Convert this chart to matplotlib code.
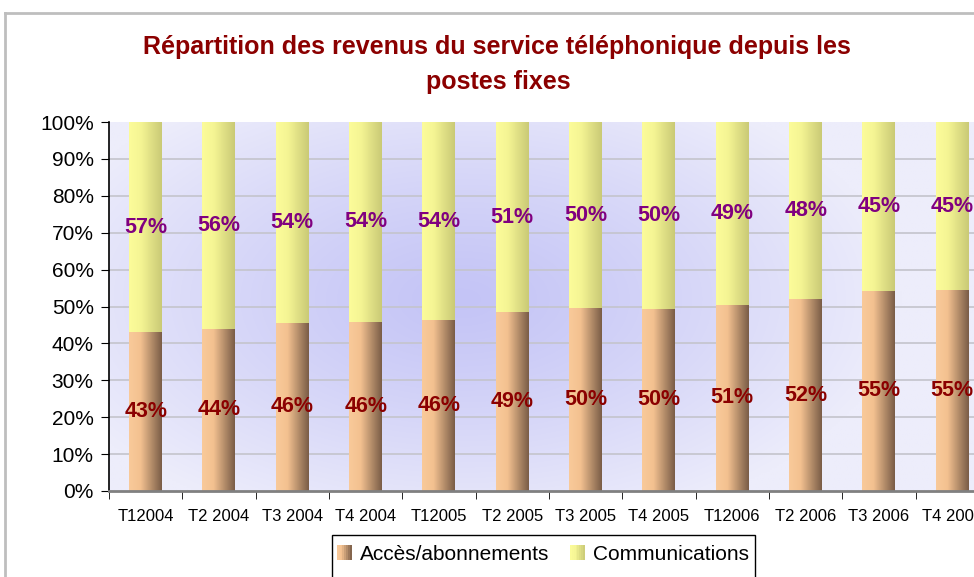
import numpy as np
import matplotlib
matplotlib.use("Agg")
import matplotlib.pyplot as plt
from matplotlib.colors import LinearSegmentedColormap, to_rgb
from matplotlib.patches import Rectangle, Patch
from matplotlib.lines import Line2D
from matplotlib.legend_handler import HandlerBase

plt.rcParams['font.family'] = ['Liberation Sans', 'DejaVu Sans']

categories = ["T12004", "T2 2004", "T3 2004", "T4 2004", "T12005", "T2 2005",
              "T3 2005", "T4 2005", "T12006", "T2 2006", "T3 2006", "T4 2006"]
acces = [43.0, 44.0, 45.6, 45.8, 46.3, 48.5, 49.5, 49.4, 50.5, 52.0, 54.3, 54.4]
communications = [100 - a for a in acces]
acces_labels = ["43%", "44%", "46%", "46%", "46%", "49%", "50%", "50%", "51%", "52%", "55%", "55%"]
comm_labels = ["57%", "56%", "54%", "54%", "54%", "51%", "50%", "50%", "49%", "48%", "45%", "45%"]
yticks = [0, 10, 20, 30, 40, 50, 60, 70, 80, 90, 100]

W, H = 974, 577
fig = plt.figure(figsize=(W / 100, H / 100), dpi=100)
fig.patch.set_facecolor('white')

# outer frame lines
fig.add_artist(Line2D([5 / W, 5 / W], [0, 1 - 13 / H], transform=fig.transFigure, color='#BEBEBE', lw=2))
fig.add_artist(Line2D([5 / W, 1.0], [1 - 13 / H, 1 - 13 / H], transform=fig.transFigure, color='#BEBEBE', lw=2))

left_px, right_px, top_px, bot_px = 109, 989, 122, 491
ax = fig.add_axes([left_px / W, 1 - bot_px / H, (right_px - left_px) / W, (bot_px - top_px) / H])

# background radial gradient
nx, ny = 400, 200
xs = np.linspace(-0.5, 11.5, nx)
ys = np.linspace(0, 100, ny)
X, Y = np.meshgrid(xs, ys)
cx, cy = 4.3, 52
d = np.sqrt(((X - cx) / 6.0) ** 2 + ((Y - cy) / 65.0) ** 2)
d = np.clip(d, 0, 1)
c_center = np.array(to_rgb('#C4C4F6'))
c_edge = np.array(to_rgb('#EDEDFB'))
img = c_center[None, None, :] + (c_edge - c_center)[None, None, :] * d[:, :, None] ** 1.2
ax.imshow(img, extent=(-0.5, 11.5, 0, 100), origin='lower', aspect='auto', zorder=0,
          interpolation='bilinear')

# gridlines
for yv in yticks[1:-1]:
    ax.axhline(yv, color='#C4C4CC', lw=1.2, zorder=1)

cmap_a = LinearSegmentedColormap.from_list('a', [(0, '#F9CA9A'), (0.35, '#F3C190'), (1, '#7A5D47')])
cmap_c = LinearSegmentedColormap.from_list('c', [(0, '#FCFC9A'), (0.35, '#F5F594'), (1, '#CACA76')])
grad = np.linspace(0, 1, 100)[None, :]

bw = 0.45
for i, (a, c) in enumerate(zip(acces, communications)):
    ax.imshow(grad, cmap=cmap_a, extent=(i - bw / 2, i + bw / 2, 0, a), aspect='auto',
              origin='lower', zorder=2, interpolation='bilinear')
    ax.imshow(grad, cmap=cmap_c, extent=(i - bw / 2, i + bw / 2, a, a + c), aspect='auto',
              origin='lower', zorder=2, interpolation='bilinear')
    ax.text(i, a / 2, acces_labels[i], ha='center', va='center', fontsize=15.5,
            fontweight='bold', color='#8B0000', zorder=4)
    ax.text(i, a + c / 2, comm_labels[i], ha='center', va='center', fontsize=15.5,
            fontweight='bold', color='#800080', zorder=4)

ax.set_xlim(-0.5, 11.5)
ax.set_ylim(0, 100)
ax.set_yticks(yticks)
ax.set_yticklabels([f"{v}%" for v in yticks], fontsize=15)
ax.set_xticks(range(len(categories)))
ax.set_xticklabels(categories, fontsize=12)
ax.set_xticks(np.arange(-0.5, 12, 1), minor=True)
ax.tick_params(axis='x', which='major', length=0, pad=13)
ax.tick_params(axis='x', which='minor', length=6, direction='out', color='black')
ax.tick_params(axis='y', length=6, direction='out', color='black', pad=5)
for s in ['top', 'right']:
    ax.spines[s].set_visible(False)
ax.spines['left'].set_color('black')
ax.spines['left'].set_linewidth(1.2)
ax.spines['bottom'].set_color('#808080')
ax.spines['bottom'].set_linewidth(2)
ax.spines['left'].set_zorder(5)
ax.spines['bottom'].set_zorder(5)

# title
fig.text(497 / W, 1 - 47 / H, "Répartition des revenus du service téléphonique depuis les",
         ha='center', va='center', fontsize=18, fontweight='bold', color='#8B0000')
fig.text(498 / W, 1 - 82 / H, "postes fixes", ha='center', va='center', fontsize=18,
         fontweight='bold', color='#8B0000')


class GradHandler(HandlerBase):
    def __init__(self, cmap):
        super().__init__()
        self.cmap = cmap

    def create_artists(self, legend, orig_handle, xdescent, ydescent, width, height, fontsize, trans):
        n = 8
        arts = []
        for k in range(n):
            r = Rectangle((-xdescent + width * k / n, -ydescent), width / n + 0.3, height,
                          facecolor=self.cmap((k + 0.5) / n), edgecolor='none', transform=trans)
            arts.append(r)
        return arts


# legend
fig.add_artist(Rectangle((332 / W, -0.05), (755 - 332) / W, 0.05 + 1 - 535 / H,
                         transform=fig.transFigure, facecolor='white', edgecolor='black', lw=1))
h_a = Patch(facecolor='#D2A67C', edgecolor='none', label='Accès/abonnements')
h_c = Patch(facecolor='#ECEC8C', edgecolor='none', label='Communications')
fig.legend(handles=[h_a, h_c], loc='center', bbox_to_anchor=(543 / W, 1 - 554 / H), ncol=2,
           frameon=False, fontsize=15, handlelength=0.7, handleheight=0.7, handletextpad=0.4,
           columnspacing=1.0, handler_map={h_a: GradHandler(cmap_a), h_c: GradHandler(cmap_c)})

fig.savefig('out.png', dpi=100)
